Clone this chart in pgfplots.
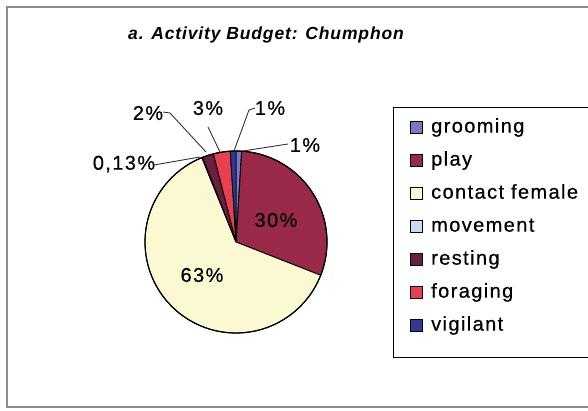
\documentclass[border=0pt]{standalone}
\usepackage{pgfplots}
\pgfplotsset{compat=1.18}
\usepackage{pgfplotstable}
\usepackage{fontspec}
\setmainfont{Liberation Sans}
\newfontfamily\lblfont{Liberation Sans}[LetterSpace=7, FakeBold=0.5]
\newfontfamily\ttlfont{Liberation Sans}[LetterSpace=5]

\definecolor{cgroom}{HTML}{7878C0}
\definecolor{cplay}{HTML}{9A2848}
\definecolor{ccont}{HTML}{FBF9D2}
\definecolor{cmove}{HTML}{CAD8F5}
\definecolor{crest}{HTML}{6A1E40}
\definecolor{cfor}{HTML}{E8404E}
\definecolor{cvig}{HTML}{2E3A96}
\definecolor{framegray}{HTML}{8C8C8C}

\def\lgdfont{\lblfont\fontsize{20bp}{23bp}\selectfont}

% activity budget, percent of time (Excel order, clockwise from 12 o'clock)
\pgfplotstableread[col sep=comma]{
name,value,col
grooming,1,cgroom
play,30,cplay
contact female,63,ccont
movement,0.13,cmove
resting,2,crest
foraging,3,cfor
vigilant,1,cvig
}\piedata
\def\total{100.13}

\begin{document}
\begin{tikzpicture}
\begin{axis}[
  scale only axis,
  width=588bp, height=411bp,
  xmin=0, xmax=588, ymin=0, ymax=411,
  enlargelimits=false,
  hide axis,
  clip=false,
  ]

% chart frame
\draw[color=framegray, line width=1.5bp]
  (axis cs:640,4) -- (axis cs:7,4) -- (axis cs:7,404) -- (axis cs:640,404);

% title
\node[anchor=base, inner sep=0pt, font=\ttlfont\fontsize{17.5bp}{20bp}\selectfont\bfseries\itshape]
  at (axis cs:266,371) {a. Activity Budget: Chumphon};

% legend box
\draw[black, line width=0.9bp, fill=white] (axis cs:393,304) rectangle (axis cs:640,54);

% slices + legend entries
\pgfplotstablegetrowsof{\piedata}
\pgfmathtruncatemacro\lastrow{\pgfplotsretval-1}
\def\cum{0}
\pgfplotsforeachungrouped \i in {0,...,\lastrow}{%
  \pgfplotstablegetelem{\i}{value}\of\piedata
  \let\val\pgfplotsretval
  \pgfplotstablegetelem{\i}{col}\of\piedata
  \let\col\pgfplotsretval
  \pgfplotstablegetelem{\i}{name}\of\piedata
  \let\nm\pgfplotsretval
  \pgfmathsetmacro\sa{90-\cum/\total*360}
  \pgfmathsetmacro\cum{\cum+\val}
  \pgfmathsetmacro\ea{90-\cum/\total*360}
  \pgfmathsetmacro\ly{283.5-33*\i}
  \edef\temp{%
    \noexpand\filldraw[fill=\col, draw=black, line width=0.9bp]
      (axis cs:236,169) -- ++(\sa:91bp) arc[start angle=\sa, end angle=\ea, radius=91bp] -- cycle;
    \noexpand\filldraw[fill=\col, draw=black, line width=0.9bp]
      (axis cs:410,\ly) ++(0bp,-6bp) rectangle ++(12bp,12bp);
    \noexpand\node[anchor=west, inner sep=0pt, text height=14.3bp, text depth=4bp,
      font=\noexpand\lgdfont] at (axis cs:431,\ly) {\nm};
  }\temp
}
\draw[black, line width=1.2bp] (axis cs:236,169) circle[radius=91bp];

% data labels
\node[font=\lgdfont, inner sep=0pt] at (axis cs:276,191) {30\%};
\node[font=\lgdfont, inner sep=0pt] at (axis cs:202,136) {63\%};
\node[font=\lgdfont, inner sep=0pt] at (axis cs:270,303) {1\%};
\node[font=\lgdfont, inner sep=0pt] at (axis cs:208,303) {3\%};
\node[font=\lgdfont, inner sep=0pt] at (axis cs:148,298) {2\%};
\node[font=\lgdfont, inner sep=0pt] at (axis cs:305,266) {1\%};
\node[font=\lgdfont, inner sep=0pt] at (axis cs:124,247) {0,13\%};

% leader lines
\draw[black!80, line width=0.9bp] (axis cs:163,299) -- (axis cs:170,298) -- (axis cs:206,259);
\draw[black!80, line width=0.9bp] (axis cs:208,284) -- (axis cs:220,259);
\draw[black!80, line width=0.9bp] (axis cs:255,303) -- (axis cs:249,301) -- (axis cs:234,260);
\draw[black!80, line width=0.9bp] (axis cs:288,267) -- (axis cs:243,260);
\draw[black!80, line width=0.9bp] (axis cs:154,246) -- (axis cs:200,254);

\end{axis}
\pgfresetboundingbox
\path[use as bounding box] (current axis.south west) rectangle (current axis.north east);
\end{tikzpicture}
\end{document}
